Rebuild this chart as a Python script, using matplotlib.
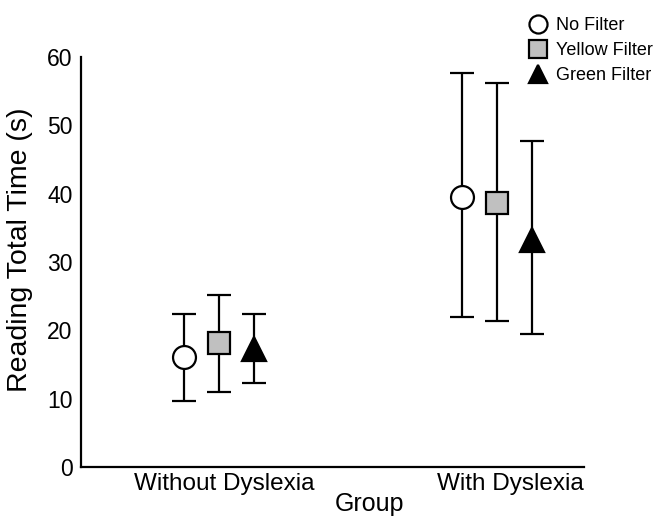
import matplotlib
matplotlib.use("Agg")
import matplotlib.pyplot as plt
import matplotlib.transforms as mtransforms
import numpy as np

plt.rcParams['font.family'] = ['Liberation Sans', 'DejaVu Sans']

groups = ["Without Dyslexia", "With Dyslexia"]
conditions = ["No Filter", "Yellow Filter", "Green Filter"]
means = {
    "No Filter": [16.1, 39.6],
    "Yellow Filter": [18.1, 38.6],
    "Green Filter": [17.3, 33.2],
}
lower = {
    "No Filter": [9.7, 22.0],
    "Yellow Filter": [11.0, 21.3],
    "Green Filter": [12.3, 19.4],
}
upper = {
    "No Filter": [22.4, 57.7],
    "Yellow Filter": [25.2, 56.2],
    "Green Filter": [22.4, 47.8],
}
yticks = [0, 10, 20, 30, 40, 50, 60]

styles = {
    "No Filter": dict(marker="o", mfc="white", ms=16.5),
    "Yellow Filter": dict(marker="s", mfc="#c0c0c0", ms=16.5),
    "Green Filter": dict(marker="^", mfc="black", ms=17),
}
offsets = [-0.126, 0.0, 0.126]

fig = plt.figure(figsize=(6.58, 5.2), dpi=100)
ax = fig.add_axes([0.123, 0.102, 0.7645, 0.788])

x = np.arange(1, len(groups) + 1)
for cond, off in zip(conditions, offsets):
    m = np.array(means[cond])
    lo = m - np.array(lower[cond])
    hi = np.array(upper[cond]) - m
    st = styles[cond]
    ax.errorbar(x + off, m, yerr=[lo, hi], fmt="none", ecolor="black",
                elinewidth=1.6, capsize=8.5, capthick=1.6, zorder=2)
    ax.plot(x + off, m, linestyle="none", marker=st["marker"],
            markerfacecolor=st["mfc"], markeredgecolor="black",
            markeredgewidth=1.6, markersize=st["ms"], zorder=3)

ax.set_xlim(0.504, 2.313)
ax.set_ylim(0, 60)
ax.set_yticks(yticks)
ax.set_xticks(x)
ax.set_xticklabels(groups, fontsize=17.5)
ax.tick_params(axis="y", labelsize=16.5, length=0, pad=6)
ax.tick_params(axis="x", length=0, pad=4)
# small horizontal shifts of the group labels as in the original
for lbl, dx in zip(ax.get_xticklabels(), [5, 13]):
    lbl.set_transform(lbl.get_transform() +
                      mtransforms.ScaledTranslation(dx / 100, 0, fig.dpi_scale_trans))
ax.spines["top"].set_visible(False)
ax.spines["right"].set_visible(False)
ax.spines["left"].set_linewidth(1.6)
ax.spines["bottom"].set_linewidth(1.6)
ax.set_ylabel("Reading Total Time (s)", fontsize=20.5, labelpad=5)
ax.yaxis.set_label_coords(-0.0954, 0.529)
ax.set_xlabel("Group", fontsize=18, labelpad=0)
ax.xaxis.set_label_coords(0.573, -0.0605)

leg_handles = []
for cond in conditions:
    st = styles[cond]
    hh, = ax.plot([], [], linestyle="none", marker=st["marker"],
                  markerfacecolor=st["mfc"], markeredgecolor="black",
                  markeredgewidth=1.6, markersize=13)
    leg_handles.append(hh)
fig.legend(leg_handles, conditions, loc="upper right",
           bbox_to_anchor=(1.0 + 6 / 658, 1.0 - 6 / 520), frameon=False,
           fontsize=13, handletextpad=0.2, handlelength=1.6,
           labelspacing=0.45, borderaxespad=0.2)

fig.savefig("out.png", dpi=100)
